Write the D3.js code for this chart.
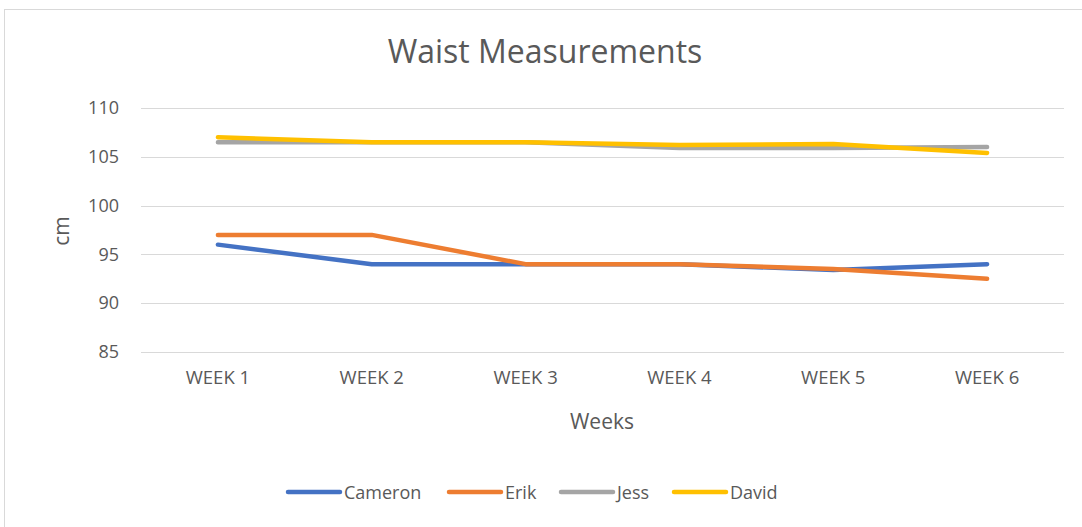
<!DOCTYPE html>
<html>
<head>
<meta charset="utf-8">
<script src="https://cdn.jsdelivr.net/npm/d3@7"></script>
<style>
  body { margin: 0; background: #fff; }
  text { font-family: "Open Sans", "Liberation Sans", sans-serif; fill: #595959; }
</style>
</head>
<body>
<svg id="chart" width="1082" height="527"></svg>
<script>
// data
var weeks = ["WEEK 1", "WEEK 2", "WEEK 3", "WEEK 4", "WEEK 5", "WEEK 6"];
var names = ["Cameron", "Erik", "Jess", "David"];
var cameron = [96, 94, 94, 94, 93.4, 94];
var erik = [97, 97, 94, 94, 93.5, 92.5];
var jess = [106.5, 106.5, 106.5, 105.9, 105.9, 106];
var david = [107, 106.5, 106.5, 106.2, 106.3, 105.4];
var yTicks = [85, 90, 95, 100, 105, 110];
var colors = ["#4472c4", "#ed7d31", "#a5a5a5", "#ffc000"];

var series = [cameron, erik, jess, david];

var svg = d3.select("#chart");

// outer chart border
svg.append("rect")
    .attr("x", 4.5).attr("y", 9.5)
    .attr("width", 1090).attr("height", 530)
    .attr("fill", "none").attr("stroke", "#d9d9d9");

var plotL = 141, plotR = 1064, plotT = 108, plotB = 352;

var x = d3.scaleBand().domain(weeks).range([plotL, plotR]);
var y = d3.scaleLinear().domain([85, 110]).range([plotB, plotT]);

// gridlines
svg.append("g").selectAll("line")
    .data(yTicks)
    .enter().append("line")
    .attr("x1", plotL).attr("x2", plotR)
    .attr("y1", function(d) { return Math.round(y(d)) + 0.5; })
    .attr("y2", function(d) { return Math.round(y(d)) + 0.5; })
    .attr("stroke", "#d9d9d9").attr("stroke-width", 1);

// y labels
var yAxis = d3.axisLeft(y).tickValues(yTicks).tickSize(0).tickPadding(0);
var yg = svg.append("g").attr("transform", "translate(119,0)").call(yAxis);
yg.select(".domain").remove();
yg.selectAll("text").style("font-size", "18px").attr("fill", "#595959")
    .style("font-family", "'Open Sans', sans-serif");

// x labels
var xAxis = d3.axisBottom(x).tickSize(0).tickPadding(0);
var xg = svg.append("g").attr("transform", "translate(0,371)").call(xAxis);
xg.select(".domain").remove();
xg.selectAll("text").style("font-size", "18.5px").attr("fill", "#595959")
    .style("font-family", "'Open Sans', sans-serif");

// lines
var line = d3.line()
    .x(function(d, i) { return x(weeks[i]) + x.bandwidth() / 2; })
    .y(function(d) { return y(d); });

svg.append("g").selectAll("path")
    .data(series)
    .enter().append("path")
    .attr("d", line)
    .attr("fill", "none")
    .attr("stroke", function(d, i) { return colors[i]; })
    .attr("stroke-width", 4.5)
    .attr("stroke-linecap", "round")
    .attr("stroke-linejoin", "round");

// title
svg.append("text")
    .attr("x", 545).attr("y", 63)
    .attr("text-anchor", "middle")
    .style("font-size", "32px")
    .text("Waist Measurements");

// axis titles
svg.append("text")
    .attr("transform", "translate(69,231) rotate(-90)")
    .attr("text-anchor", "middle")
    .style("font-size", "21px")
    .text("cm");

svg.append("text")
    .attr("x", 602).attr("y", 429)
    .attr("text-anchor", "middle")
    .style("font-size", "21px")
    .text("Weeks");

// legend
var legX = [288, 449, 561, 674];
var lg = svg.append("g").selectAll("g")
    .data(names)
    .enter().append("g")
    .attr("transform", function(d, i) { return "translate(" + legX[i] + ",492)"; });

lg.append("line")
    .attr("x1", 0).attr("x2", 52)
    .attr("stroke", function(d, i) { return colors[i]; })
    .attr("stroke-width", 4.5)
    .attr("stroke-linecap", "round");

lg.append("text")
    .attr("x", 56).attr("y", 7)
    .style("font-size", "18px")
    .text(function(d) { return d; });
</script>
</body>
</html>
